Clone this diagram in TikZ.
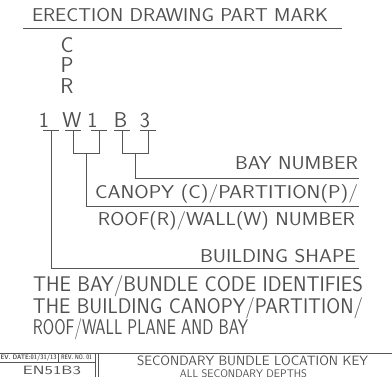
\documentclass[tikz,border=0pt]{standalone}
\usepackage{fontspec}
\usepackage{graphicx}
\definecolor{ink}{RGB}{80,80,80}
\definecolor{wire}{RGB}{85,85,85}
\newcommand{\fitw}[2]{\resizebox{#1}{\height}{#2}}
\tikzset{
  txt/.style={inner sep=0pt, outer sep=0pt, text=ink, font=\sffamily},
  big/.style={txt, font=\sffamily\fontsize{18.6}{20}\selectfont},
  huge/.style={txt, font=\sffamily\fontsize{21.2}{22}\selectfont},
  letter/.style={txt, font=\sffamily\fontsize{21.5}{20}\selectfont, anchor=base},
  wireline/.style={draw=wire, line width=0.8pt},
}
\begin{document}
\begin{tikzpicture}[x=1pt,y=-1pt]
\clip (0,0) rectangle (392,377);
\fill[white] (0,0) rectangle (392,377);
% title
\node[big, anchor=base west] (title) at (32,22) {\fitw{296pt}{ERECTION DRAWING PART MARK}};
\coordinate (tl) at (23,28);
\coordinate (tr) at (342,28);
\draw[wireline] (tl) -- (tr);
% stacked letters
\node[letter] (c) at (67,53) {C};
\node[letter] (p) at (67,73) {P};
\node[letter] (r) at (67,94) {R};
\node[letter] (d1) at (44,128) {1};
\node[letter] (dw) at (72,128) {W};
\node[letter] (d2) at (92.5,128) {1};
\node[letter] (db) at (120.5,128) {B};
\node[letter] (d3) at (145,128) {3};
% tee positions
\foreach \n/\x in {a/51,b/73,c/99,d/122,e/148}{
  \coordinate (t\n) at (\x,130);
  \coordinate (t\n l) at (\x-8,130);
  \coordinate (t\n r) at (\x+8,130);
  \draw[wireline] (t\n l) -- (t\n r);
}
% joins
\coordinate (ub1) at (73,153);
\coordinate (ub2) at (99,153);
\coordinate (um1) at (86,153);
\coordinate (ud1) at (122,153);
\coordinate (ud2) at (148,153);
\coordinate (um2) at (135,153);
\coordinate (bay) at (135,178);
\coordinate (bayend) at (359,178);
\coordinate (wall) at (86,206);
\coordinate (wallend) at (359,206);
\coordinate (shape) at (51,268);
\coordinate (shapeend) at (359,268);
\draw[wireline] (tb) -- (ub1) -- (ub2) -- (tc);
\draw[wireline] (td) -- (ud1) -- (ud2) -- (te);
\draw[wireline] (um1) -- (wall) -- (wallend);
\draw[wireline] (um2) -- (bay) -- (bayend);
\draw[wireline] (ta) -- (shape) -- (shapeend);
% labels
\node[big, anchor=base west] (lbay) at (235,170) {\fitw{123pt}{BAY NUMBER}};
\node[big, anchor=base west] (lcan) at (95,199) {\fitw{263pt}{CANOPY (C)/PARTITION(P)/}};
\node[big, anchor=base west] (lroof) at (98,226) {\fitw{257pt}{ROOF(R)/WALL(W) NUMBER}};
\node[big, anchor=base west] (lshape) at (200,263) {\fitw{156pt}{BUILDING SHAPE}};
% explanation
\node[huge, anchor=base west] (e1) at (33,292) {\fitw{330pt}{THE BAY/BUNDLE CODE IDENTIFIES}};
\node[huge, anchor=base west] (e2) at (33,314) {\fitw{330pt}{THE BUILDING CANOPY/PARTITION/}};
\node[huge, anchor=base west] (e3) at (33,335) {\fitw{215pt}{ROOF/WALL PLANE AND BAY}};
% title block
\coordinate (kl) at (0,353);
\coordinate (kr) at (392,353);
\coordinate (rl) at (0,362);
\coordinate (rr) at (95,362);
\coordinate (v1t) at (58,353);
\coordinate (v1b) at (58,362);
\coordinate (v2t) at (95,353);
\coordinate (v2b) at (95,377);
\coordinate (v3t) at (98,353);
\coordinate (v3b) at (98,377);
\draw[wireline] (kl) -- (kr);
\draw[wireline, line width=0.6pt] (rl) -- (rr);
\draw[wireline, line width=0.6pt] (v1t) -- (v1b);
\draw[wireline] (v2t) -- (v2b);
\draw[wireline] (v3t) -- (v3b);
\node[txt, font=\sffamily\bfseries\fontsize{6.5}{7}\selectfont, anchor=base west] (date) at (0.5,360) {\fitw{56pt}{EV. DATE:01/31/13}};
\node[txt, font=\sffamily\bfseries\fontsize{6.5}{7}\selectfont, anchor=base west] (rev) at (61,360) {\fitw{31pt}{REV. NO. 01}};
\node[txt, font=\sffamily\fontsize{12}{12}\selectfont, anchor=base west] (code) at (23,375) {\fitw{58pt}{EN51B3}};
\node[txt, font=\sffamily\fontsize{13.5}{14}\selectfont, anchor=base west] (key) at (137,366) {\fitw{231pt}{SECONDARY BUNDLE LOCATION KEY}};
\node[txt, font=\sffamily\fontsize{11}{12}\selectfont, anchor=base west] (depth) at (180,377.5) {\fitw{127pt}{ALL SECONDARY DEPTHS}};
\end{tikzpicture}
\end{document}
